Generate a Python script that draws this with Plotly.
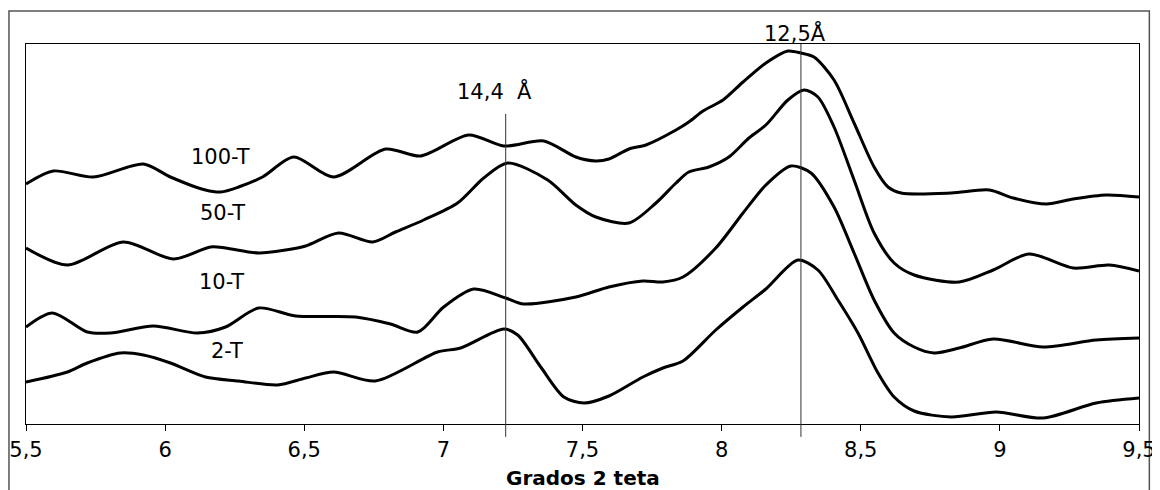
import plotly.graph_objects as go

# 2-theta (degrees) and relative intensity (arbitrary units, offset stacked)
x_100T = [5.500, 5.598, 5.742, 5.922, 6.019, 6.145, 6.200, 6.264, 6.350, 6.462, 6.605, 6.792,
          6.918, 7.091, 7.217, 7.361, 7.476, 7.548, 7.595, 7.667, 7.728, 7.836, 7.882, 7.933,
          8.005, 8.077, 8.159, 8.238, 8.285, 8.332, 8.404, 8.476, 8.548, 8.598, 8.645, 8.825,
          8.962, 9.048, 9.167, 9.264, 9.382, 9.500]
y_100T = [240, 253, 247, 260, 247, 234, 232, 237, 247, 267, 247, 275,
          268, 289, 278, 283, 267, 263, 265, 275, 279, 294, 302, 313,
          324, 342, 361, 373, 371, 367, 344, 301, 257, 237, 231, 231,
          234, 226, 220, 225, 229, 227]

x_50T = [5.500, 5.649, 5.850, 6.030, 6.163, 6.217, 6.336, 6.433, 6.505, 6.623, 6.746, 6.828,
         6.929, 7.051, 7.145, 7.231, 7.375, 7.476, 7.548, 7.667, 7.764, 7.836, 7.882, 7.954,
         8.026, 8.098, 8.159, 8.238, 8.296, 8.346, 8.404, 8.476, 8.548, 8.620, 8.692, 8.854,
         8.976, 9.105, 9.264, 9.393, 9.500]
y_50T = [176, 159, 182, 165, 177, 176, 171, 174, 178, 191, 182, 192,
         204, 221, 246, 261, 244, 219, 207, 201, 221, 241, 252, 257,
         267, 286, 299, 324, 334, 327, 297, 244, 191, 161, 149, 142,
         154, 170, 156, 159, 153]

x_10T = [5.500, 5.595, 5.720, 5.803, 5.958, 6.116, 6.217, 6.336, 6.469, 6.685, 6.810, 6.908,
         7.001, 7.109, 7.224, 7.289, 7.476, 7.595, 7.717, 7.789, 7.861, 7.979, 8.077, 8.159,
         8.249, 8.321, 8.404, 8.476, 8.548, 8.620, 8.692, 8.764, 8.854, 8.976, 9.156, 9.346,
         9.500]
y_10T = [97, 111, 92, 91, 98, 91, 97, 116, 108, 107, 100, 92,
         117, 135, 126, 120, 127, 137, 143, 142, 147, 176, 211, 239,
         258, 251, 217, 171, 124, 91, 77, 71, 76, 85, 77, 84,
         86]

x_2T = [5.500, 5.649, 5.720, 5.839, 5.922, 6.019, 6.145, 6.264, 6.404, 6.505, 6.605, 6.756,
        6.979, 7.062, 7.217, 7.267, 7.350, 7.433, 7.505, 7.595, 7.717, 7.789, 7.861, 7.979,
        8.077, 8.159, 8.274, 8.346, 8.418, 8.490, 8.562, 8.620, 8.692, 8.825, 8.987, 9.156,
        9.346, 9.500]
y_2T = [42, 52, 61, 71, 69, 61, 47, 43, 39, 46, 52, 43,
        72, 76, 95, 89, 57, 27, 21, 28, 47, 56, 63, 94,
        117, 135, 164, 154, 124, 91, 51, 27, 13, 7, 12, 6,
        21, 26]

series = [("100-T", x_100T, y_100T), ("50-T", x_50T, y_50T),
          ("10-T", x_10T, y_10T), ("2-T", x_2T, y_2T)]

# curve labels: (text, x, y)
labels = [("100-T", 6.199, 267), ("50-T", 6.207, 211), ("10-T", 6.203, 142), ("2-T", 6.224, 73)]

tick_vals = [5.5, 6, 6.5, 7, 7.5, 8, 8.5, 9, 9.5]
tick_text = ["5,5", "6", "6,5", "7", "7,5", "8", "8,5", "9", "9,5"]

peak_144 = 7.224
peak_125 = 8.285

FONT = "DejaVu Sans, Arial, sans-serif"

fig = go.Figure()
for name, xs, ys in series:
    fig.add_trace(go.Scatter(x=xs, y=ys, mode="lines", name=name,
                             line=dict(color="black", width=3, shape="spline", smoothing=0.8),
                             showlegend=False, hoverinfo="skip"))

for text, lx, ly in labels:
    fig.add_annotation(x=lx, y=ly, text=text, showarrow=False, yanchor="middle", xanchor="center",
                       font=dict(family=FONT, size=21, color="black"))

# reference lines
fig.add_shape(type="line", xref="x", yref="paper", x0=peak_144, x1=peak_144, y0=-0.034, y1=0.816,
              line=dict(color="#333333", width=1))
fig.add_shape(type="line", xref="x", yref="paper", x0=peak_125, x1=peak_125, y0=-0.034, y1=1.0,
              line=dict(color="#333333", width=1))
fig.add_annotation(x=7.185, y=0.877, yref="paper", yanchor="middle", xanchor="center",
                   text="14,4\u00a0 Å", showarrow=False,
                   font=dict(family=FONT, size=21, color="black"))
fig.add_annotation(x=8.264, y=1.03, yref="paper", yanchor="middle", xanchor="center",
                   text="12,5Å", showarrow=False,
                   font=dict(family=FONT, size=21, color="black"))

# x-axis title
fig.add_annotation(x=0.5, xref="paper", y=-0.142, yref="paper", yanchor="middle", xanchor="center",
                   text="<b>Grados 2 teta</b>",
                   showarrow=False, font=dict(family=FONT, size=20, color="black"))

# outer chart border
fig.add_shape(type="rect", xref="paper", yref="paper", x0=-0.0153, x1=1.0093, y0=-0.25, y1=1.087,
              line=dict(color="#555555", width=1.5), layer="below")

fig.update_layout(
    width=1152, height=482,
    margin=dict(l=18, r=21, t=36, b=66, autoexpand=False),
    paper_bgcolor="white", plot_bgcolor="white",
    font=dict(family=FONT, size=21, color="black"),
    xaxis=dict(range=[5.5, 9.5], tickvals=tick_vals, ticktext=tick_text,
               showgrid=False, zeroline=False, showline=True, mirror=True, automargin=False,
               linecolor="black", linewidth=1, ticks="outside", ticklen=6,
               ticklabelstandoff=1,
               tickcolor="black", tickfont=dict(family=FONT, size=21, color="black")),
    yaxis=dict(range=[0, 380], showticklabels=False, showgrid=False, zeroline=False,
               automargin=False,
               showline=True, mirror=True, linecolor="black", linewidth=1, ticks=""),
)

fig.write_html("out.html")
